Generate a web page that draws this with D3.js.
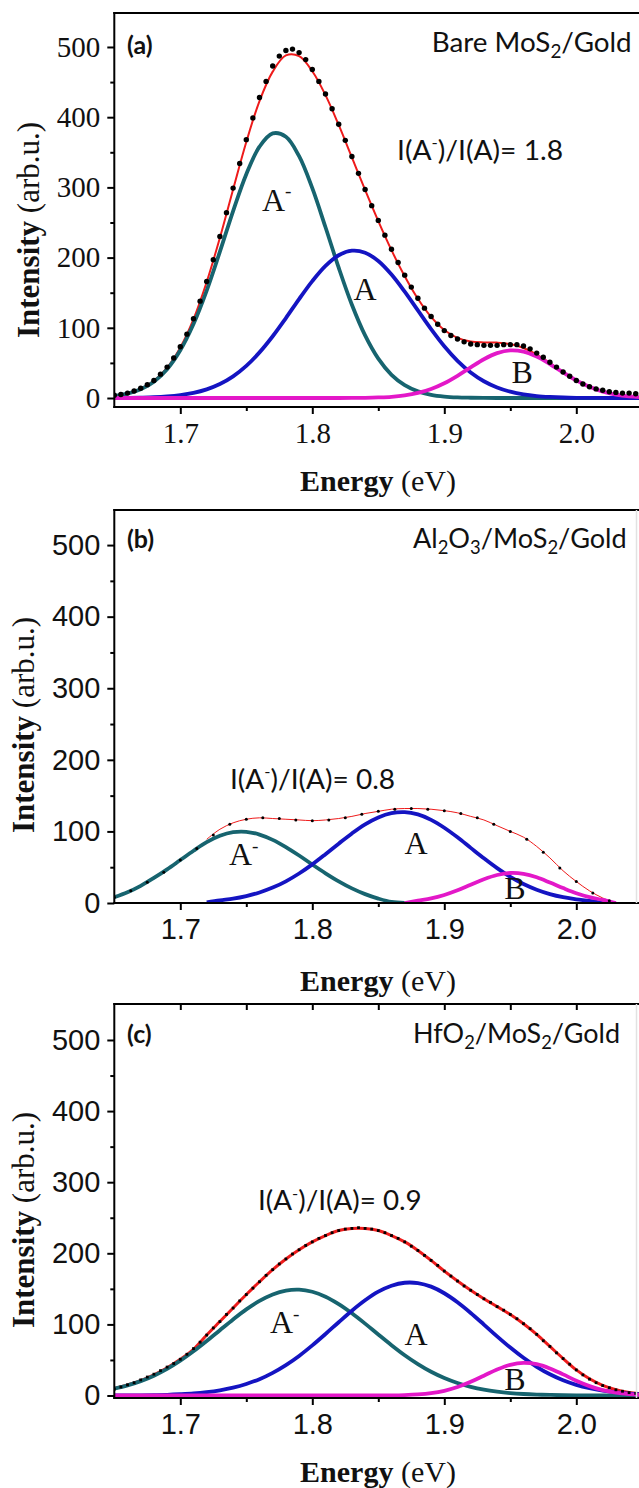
<!DOCTYPE html>
<html>
<head>
<meta charset="utf-8">
<script src="https://cdn.jsdelivr.net/npm/d3@7"></script>
<style>
  body { margin: 0; background: #fff; }
  svg { display: block; }
</style>
</head>
<body>
<div id="chart"></div>
<script>
// energy grid of the fitted curves (eV)
const energy = [
  1.65, 1.66, 1.67, 1.68, 1.69, 1.70, 1.71, 1.72, 1.73, 1.74,
  1.75, 1.76, 1.77, 1.78, 1.79, 1.80, 1.81, 1.82, 1.83, 1.84,
  1.85, 1.86, 1.87, 1.88, 1.89, 1.90, 1.91, 1.92, 1.93, 1.94,
  1.95, 1.96, 1.97, 1.98, 1.99, 2.00, 2.01, 2.02, 2.03, 2.04,
  2.05
];

// measured points in (a) and (c)
const dotEnergy = [
  1.650, 1.655, 1.660, 1.665, 1.670, 1.675, 1.680, 1.685, 1.690, 1.695,
  1.700, 1.705, 1.710, 1.715, 1.720, 1.725, 1.730, 1.735, 1.740, 1.745,
  1.750, 1.755, 1.760, 1.765, 1.770, 1.775, 1.780, 1.785, 1.790, 1.795,
  1.800, 1.805, 1.810, 1.815, 1.820, 1.825, 1.830, 1.835, 1.840, 1.845,
  1.850, 1.855, 1.860, 1.865, 1.870, 1.875, 1.880, 1.885, 1.890, 1.895,
  1.900, 1.905, 1.910, 1.915, 1.920, 1.925, 1.930, 1.935, 1.940, 1.945,
  1.950, 1.955, 1.960, 1.965, 1.970, 1.975, 1.980, 1.985, 1.990, 1.995,
  2.000, 2.005, 2.010, 2.015, 2.020, 2.025, 2.030, 2.035, 2.040, 2.045,
  2.050
];

// measured points in (b)
const dotEnergyB = [
  1.6500, 1.6625, 1.6750, 1.6875, 1.7000, 1.7125, 1.7250, 1.7375, 1.7500, 1.7625,
  1.7750, 1.7875, 1.8000, 1.8125, 1.8250, 1.8375, 1.8500, 1.8625, 1.8750, 1.8875,
  1.9000, 1.9125, 1.9250, 1.9375, 1.9500, 1.9625, 1.9750, 1.9875, 2.0000, 2.0125,
  2.0250
];

const yTicks = [0, 100, 200, 300, 400, 500];
const yMinorTicks = [50, 150, 250, 350, 450];
const xTicks = [1.7, 1.8, 1.9, 2.0];
const xMinorTicks = [1.75, 1.85, 1.95, 2.05];
const xTopTicks = [1.7, 1.75, 1.8, 1.85, 1.9, 1.95, 2.0];

// (a) bare MoS2 / gold
const fitA = [
  3.0, 6.5, 13.0, 24.4, 43.3, 72.1, 112.5, 165.3, 228.3, 297.1,
  364.6, 423.0, 464.9, 488.0, 487.0, 465.4, 431.4, 388.9, 342.7, 296.4,
  252.0, 210.6, 173.5, 141.4, 115.6, 96.9, 85.6, 80.5, 79.2, 78.9,
  76.9, 71.2, 61.9, 49.9, 37.1, 25.4, 16.1, 9.3, 4.9, 2.4,
  1.1
];
const trionA = [
  2.9, 6.2, 12.4, 23.3, 41.1, 68.0, 105.3, 153.0, 208.4, 266.2,
  318.8, 358.0, 376.9, 372.1, 344.4, 298.9, 243.2, 185.6, 132.8, 89.1,
  56.0, 33.0, 18.3, 9.5, 4.6, 2.1, 0.9, 0.4, 0.1, 0,
  0, 0, 0, 0, 0, 0, 0, 0, 0, 0,
  0
];
const excitonA = [
  0.1, 0.3, 0.6, 1.1, 2.2, 4.1, 7.2, 12.3, 19.9, 30.9,
  45.8, 65.0, 88.0, 113.9, 140.9, 166.5, 188.2, 203.3, 209.8, 207.0,
  195.2, 175.9, 151.5, 124.7, 98.1, 73.7, 53.0, 36.4, 23.9, 15.0,
  9.0, 5.1, 2.8, 1.5, 0.7, 0.3, 0.2, 0.1, 0, 0,
  0
];
const bExcitonA = [
  0, 0, 0, 0, 0, 0, 0, 0, 0, 0,
  0, 0, 0, 0, 0, 0, 0, 0, 0.1, 0.3,
  0.8, 1.7, 3.7, 7.2, 12.9, 21.1, 31.7, 43.7, 55.2, 63.9,
  67.9, 66.1, 59.1, 48.4, 36.4, 25.1, 15.9, 9.2, 4.9, 2.4,
  1.1
];
const measuredA = [
  4, 5, 7, 10, 14, 19, 25, 34, 44, 57,
  73, 91, 113, 138, 166, 197, 230, 264, 299, 334,
  368, 399, 428, 451, 473, 487, 495, 497, 492, 482,
  468, 451, 433, 412, 390, 367, 344, 320, 297, 274,
  253, 232, 212, 193, 175, 158, 142, 128, 116, 105,
  96, 89, 84, 80, 77, 76, 75, 75, 75, 76,
  76, 76, 74, 70, 64, 58, 51, 44, 37, 31,
  25, 20, 16, 13, 11, 9, 8, 7, 7, 6,
  6
];

// (b) Al2O3 / MoS2 / gold  (null = not drawn)
const fitB = [
  null, null, null, null, null, null, null, 89, 103, 112,
  117, 119, 118, 117, 116, 115, 116, 118, 121, 125,
  128, 131, 132, 132, 131, 129, 126, 121, 116, 108,
  100, 92, 79, 63, 45, 30, 17, 7, 0, null,
  null
];
const trionB = [
  8, 15, 24, 35, 47, 60, 73, 85, 94, 99,
  99.5, 95.6, 88.2, 78.1, 66.3, 53.7, 41.5, 30.2, 20.4, 12.4,
  6.1, 1.4, 0, null, null, null, null, null, null, null,
  null, null, null, null, null, null, null, null, null, null,
  null
];
const excitonB = [
  null, null, null, null, null, null, null, 1.0, 3.8, 6.1,
  9.7, 14.7, 21.5, 30.3, 41.2, 54.0, 68.2, 82.9, 97.2, 109.9,
  119.6, 125.5, 126.9, 123.7, 116.1, 105.1, 91.7, 77.0, 62.4, 48.7,
  36.6, 26.6, 18.6, 12.5, 8.1, 5.1, 3.1, 0, null, null,
  null
];
const bExcitonB = [
  null, null, null, null, null, null, null, null, null, null,
  null, null, null, null, null, null, null, null, null, null,
  null, null, 0, 3.3, 6.4, 11.2, 17.7, 25.5, 33.2, 39.1,
  41.9, 40.7, 35.9, 28.6, 20.8, 13.6, 8.1, 4.4, 0, null,
  null
];
const measuredB = [
  8, 17, 29, 43, 60, 76, 95, 110, 117, 119,
  118, 116, 115, 116, 119, 124, 128, 131, 132, 131,
  129, 125, 119, 110, 100, 89, 71, 49, 30, 14,
  3
];

// (c) HfO2 / MoS2 / gold
const fitC = [
  9.8, 15, 21, 29, 39, 51, 65, 85, 104, 123,
  142, 160, 177, 192, 205, 216, 225, 232, 235, 235,
  232, 225, 216, 204, 190, 175, 161, 148, 136, 125,
  114, 101, 86, 69, 52, 36, 23.5, 14.3, 8.2, 4.4,
  2.3
];
const trionC = [
  9.7, 14.2, 20.2, 27.9, 37.5, 49.0, 62.2, 76.7, 91.9, 107.0,
  121.1, 133.1, 142.2, 147.6, 148.9, 145.9, 139.0, 128.6, 115.7, 101.1,
  85.8, 70.8, 56.7, 44.2, 33.4, 24.6, 17.6, 12.2, 8.2, 5.4,
  3.4, 2.1, 1.3, 0.8, 0.4, 0.2, 0.1, 0.1, 0.1, 0,
  0
];
const excitonC = [
  0.1, 0.2, 0.3, 0.6, 1.0, 1.8, 2.9, 4.7, 7.3, 11.0,
  16.2, 23.0, 31.9, 42.8, 55.7, 70.5, 86.5, 103.1, 119.3, 133.9,
  146.0, 154.4, 158.6, 158.1, 153.1, 143.8, 131.1, 116.1, 99.8, 83.2,
  67.4, 53.0, 40.4, 29.9, 21.5, 15.0, 10.2, 6.7, 4.3, 2.6,
  1.6
];
const bExcitonC = [
  0, 0, 0, 0, 0, 0, 0, 0, 0, 0,
  0, 0, 0, 0, 0, 0, 0, 0, 0, 0,
  0.1, 0.2, 0.6, 1.5, 3.3, 6.6, 11.9, 19.2, 27.9, 36.6,
  43.2, 46.0, 44.1, 38.1, 29.7, 20.8, 13.2, 7.5, 3.9, 1.8,
  0.7
];
const measuredC = [
  9, 12, 15, 18, 22, 26, 30, 35, 40, 45,
  51, 58, 66, 75, 85, 95, 104, 114, 123, 133,
  142, 151, 160, 169, 177, 185, 192, 199, 205, 211,
  216, 221, 225, 229, 232, 234, 235, 236, 235, 234,
  232, 229, 225, 221, 216, 210, 204, 197, 190, 183,
  175, 168, 161, 154, 148, 142, 136, 131, 125, 120,
  114, 108, 101, 94, 86, 77, 69, 60, 52, 44,
  36, 29, 23, 18, 14, 11, 8, 6, 4, 3,
  2
];

const SERIF = "'Liberation Serif', 'Times New Roman', serif";
const SANS = "'Liberation Sans', Arial, sans-serif";
const CALI = "Lato, 'Open Sans', sans-serif";

const colors = { trion: '#17646f', exciton: '#1414c2', bExciton: '#e318c8', fit: '#ee1b1b' };

const width = 639;
const height = 1488;
const left = 114.3;

const x = d3.scaleLinear().domain([1.65, 2.05]).range([left, 642.3]);

const svg = d3
  .select('#chart')
  .append('svg')
  .attr('width', width)
  .attr('height', height);

svg.append('rect').attr('width', width).attr('height', height).attr('fill', '#fff');

const panels = [
  {
    key: 'a', top: 13, bottom: 407, yDomain: [-12.8, 548.4], tickFamily: SERIF,
    fit: fitA, trion: trionA, exciton: excitonA, bExciton: bExcitonA,
    dotX: dotEnergy, dotY: measuredA, dotShape: 'circle', dotSize: 2.7, fitWidth: 2,
    letter: [127, 53.5],
    title: { x: 431.7, y: 52, len: 200, parts: [{ t: 'Bare MoS' }, { t: '2', sub: true }, { t: '/Gold' }] },
    ratio: { x: 397, y: 159.5, len: 166, value: '1.8' },
    peaks: [{ t: 'A', x: 262, y: 210.5, minus: true }, { t: 'A', x: 353.5, y: 300 }, { t: 'B', x: 511.6, y: 383 }],
    yTitle: [39, 230], xTitleY: 491, topTicks: false, edge: false
  },
  {
    key: 'b', top: 510, bottom: 903, yDomain: [0, 549], tickFamily: SANS,
    fit: fitB, trion: trionB, exciton: excitonB, bExciton: bExcitonB,
    dotX: dotEnergyB, dotY: measuredB, dotShape: 'circle', dotSize: 1.5, fitWidth: 1,
    letter: [127, 548],
    title: {
      x: 413, y: 548, len: 213.7,
      parts: [{ t: 'Al' }, { t: '2', sub: true }, { t: 'O' }, { t: '3', sub: true }, { t: '/MoS' }, { t: '2', sub: true }, { t: '/Gold' }]
    },
    ratio: { x: 230, y: 788.5, len: 165, value: '0.8' },
    peaks: [{ t: 'A', x: 229, y: 865, minus: true }, { t: 'A', x: 404.5, y: 854 }, { t: 'B', x: 504.3, y: 899.3 }],
    yTitle: [34, 725], xTitleY: 991, topTicks: false, edge: true
  },
  {
    key: 'c', top: 1004, bottom: 1398, yDomain: [-3.5, 550.6], tickFamily: SANS,
    fit: fitC, trion: trionC, exciton: excitonC, bExciton: bExcitonC,
    dotX: dotEnergy, dotY: measuredC, dotShape: 'square', dotSize: 2.8, fitWidth: 3,
    letter: [127, 1043],
    title: {
      x: 413, y: 1043, len: 207,
      parts: [{ t: 'HfO' }, { t: '2', sub: true }, { t: '/MoS' }, { t: '2', sub: true }, { t: '/Gold' }]
    },
    ratio: { x: 258, y: 1210, len: 163.7, value: '0.9' },
    peaks: [{ t: 'A', x: 270, y: 1333.3, minus: true }, { t: 'A', x: 404.5, y: 1345 }, { t: 'B', x: 504.3, y: 1390 }],
    yTitle: [34, 1220], xTitleY: 1481.5, topTicks: true, edge: true
  }
];

// text with sub/superscript pieces
function richText(g, px, py, parts, opts) {
  const t = g
    .append('text')
    .attr('x', px)
    .attr('y', py)
    .attr('font-family', opts.family)
    .attr('font-size', opts.size)
    .attr('fill', '#111');
  if (opts.len) t.attr('textLength', opts.len).attr('lengthAdjust', 'spacingAndGlyphs');
  let shift = 0;
  parts.forEach((p) => {
    const target = p.sub ? opts.size * 0.22 : p.sup ? -opts.size * 0.42 : 0;
    const s = t.append('tspan').text(p.t).attr('dy', target - shift);
    if (p.sub || p.sup) s.attr('font-size', opts.size * (p.sup ? 0.6 : 0.68));
    shift = target;
  });
  return t;
}

function drawPanel(p) {
  const y = d3.scaleLinear().domain(p.yDomain).range([p.bottom, p.top]);
  const g = svg.append('g').attr('class', 'panel-' + p.key);

  const clipId = 'clip-' + p.key;
  svg
    .append('clipPath')
    .attr('id', clipId)
    .append('rect')
    .attr('x', left)
    .attr('y', p.top)
    .attr('width', width - left)
    .attr('height', p.bottom - p.top);

  const plot = g.append('g').attr('clip-path', `url(#${clipId})`);

  const line = d3
    .line()
    .defined((d) => d[1] != null)
    .x((d) => x(d[0]))
    .y((d) => y(d[1]))
    .curve(d3.curveCatmullRom.alpha(0.5));

  const series = (vals) => energy.map((e, i) => [e, vals[i]]);

  // fitted sum
  plot
    .append('path')
    .attr('d', line(series(p.fit)))
    .attr('fill', 'none')
    .attr('stroke', colors.fit)
    .attr('stroke-width', p.fitWidth);

  // components
  [
    [p.trion, colors.trion],
    [p.exciton, colors.exciton],
    [p.bExciton, colors.bExciton]
  ].forEach(([vals, color]) => {
    plot
      .append('path')
      .attr('d', line(series(vals)))
      .attr('fill', 'none')
      .attr('stroke', color)
      .attr('stroke-width', 3.8)
      .attr('stroke-linejoin', 'round');
  });

  // measured points
  const pts = p.dotX.map((e, i) => [e, p.dotY[i]]);
  if (p.dotShape === 'circle') {
    plot
      .selectAll('circle.pt')
      .data(pts)
      .enter()
      .append('circle')
      .attr('class', 'pt')
      .attr('cx', (d) => x(d[0]))
      .attr('cy', (d) => y(d[1]))
      .attr('r', p.dotSize)
      .attr('fill', '#000');
  } else {
    plot
      .selectAll('rect.pt')
      .data(pts)
      .enter()
      .append('rect')
      .attr('class', 'pt')
      .attr('x', (d) => x(d[0]) - p.dotSize / 2)
      .attr('y', (d) => y(d[1]) - p.dotSize / 2)
      .attr('width', p.dotSize)
      .attr('height', p.dotSize)
      .attr('fill', '#000');
  }

  // axes
  const styleAxis = (ax) => {
    ax.select('.domain').remove();
    ax.selectAll('.tick line').attr('stroke', '#000').attr('stroke-width', 2);
  };

  g.append('g')
    .attr('transform', `translate(${left},0)`)
    .call(d3.axisLeft(y).tickValues(yTicks).tickSize(7).tickPadding(7).tickFormat(d3.format('d')))
    .call(styleAxis)
    .call((ax) => ax.selectAll('text').attr('font-family', p.tickFamily).attr('font-size', 29).attr('fill', '#111'));

  g.append('g')
    .attr('transform', `translate(${left},0)`)
    .call(d3.axisLeft(y).tickValues(yMinorTicks).tickSize(4).tickFormat(''))
    .call(styleAxis);

  g.append('g')
    .attr('transform', `translate(0,${p.bottom})`)
    .call(d3.axisBottom(x).tickValues(xTicks).tickSize(7).tickPadding(8).tickFormat(d3.format('.1f')))
    .call(styleAxis)
    .call((ax) => ax.selectAll('text').attr('font-family', p.tickFamily).attr('font-size', 29).attr('fill', '#111'));

  g.append('g')
    .attr('transform', `translate(0,${p.bottom})`)
    .call(d3.axisBottom(x).tickValues(xMinorTicks).tickSize(4).tickFormat(''))
    .call(styleAxis);

  if (p.topTicks) {
    g.append('g')
      .attr('transform', `translate(0,${p.top})`)
      .call(d3.axisTop(x).tickValues(xTopTicks).tickSize(-6).tickFormat(''))
      .call(styleAxis);
  }

  // frame
  const frame = g.append('g').attr('stroke', '#000').attr('stroke-width', 2);
  frame.append('line').attr('x1', left).attr('x2', left).attr('y1', p.top - 1).attr('y2', p.bottom + 1);
  frame.append('line').attr('x1', left - 1).attr('x2', width).attr('y1', p.bottom).attr('y2', p.bottom);
  frame.append('line').attr('x1', left - 1).attr('x2', width).attr('y1', p.top).attr('y2', p.top);
  if (p.edge) {
    g.append('line')
      .attr('x1', 636.5)
      .attr('x2', 636.5)
      .attr('y1', p.top)
      .attr('y2', p.bottom)
      .attr('stroke', '#e2e2e2')
      .attr('stroke-width', 1.5);
  }

  // axis titles
  const yt = g
    .append('text')
    .attr('transform', `translate(${p.yTitle[0]},${p.yTitle[1]}) rotate(-90)`)
    .attr('text-anchor', 'middle')
    .attr('font-family', SERIF)
    .attr('font-size', 31)
    .attr('fill', '#111');
  yt.append('tspan').attr('font-weight', 'bold').text('Intensity');
  yt.append('tspan').text(' (arb.u.)');

  const xt = g
    .append('text')
    .attr('x', 378)
    .attr('y', p.xTitleY)
    .attr('text-anchor', 'middle')
    .attr('font-family', SERIF)
    .attr('font-size', 30)
    .attr('fill', '#111');
  xt.append('tspan').attr('font-weight', 'bold').text('Energy');
  xt.append('tspan').text(' (eV)');

  // annotations
  g.append('text')
    .attr('x', p.letter[0])
    .attr('y', p.letter[1])
    .attr('font-family', CALI)
    .attr('font-weight', 'bold')
    .attr('font-size', 25)
    .attr('fill', '#111')
    .text(`(${p.key})`);

  richText(g, p.title.x, p.title.y, p.title.parts, { family: CALI, size: 27, len: p.title.len });

  richText(
    g,
    p.ratio.x,
    p.ratio.y,
    [{ t: 'I(A' }, { t: '-', sup: true }, { t: ')/I(A)= ' + p.ratio.value }],
    { family: CALI, size: 27, len: p.ratio.len }
  );

  p.peaks.forEach((pk) => {
    const parts = [{ t: pk.t }];
    if (pk.minus) parts.push({ t: '-', sup: true });
    richText(g, pk.x, pk.y, parts, { family: SERIF, size: 32 });
  });
}

panels.forEach(drawPanel);
</script>
</body>
</html>
